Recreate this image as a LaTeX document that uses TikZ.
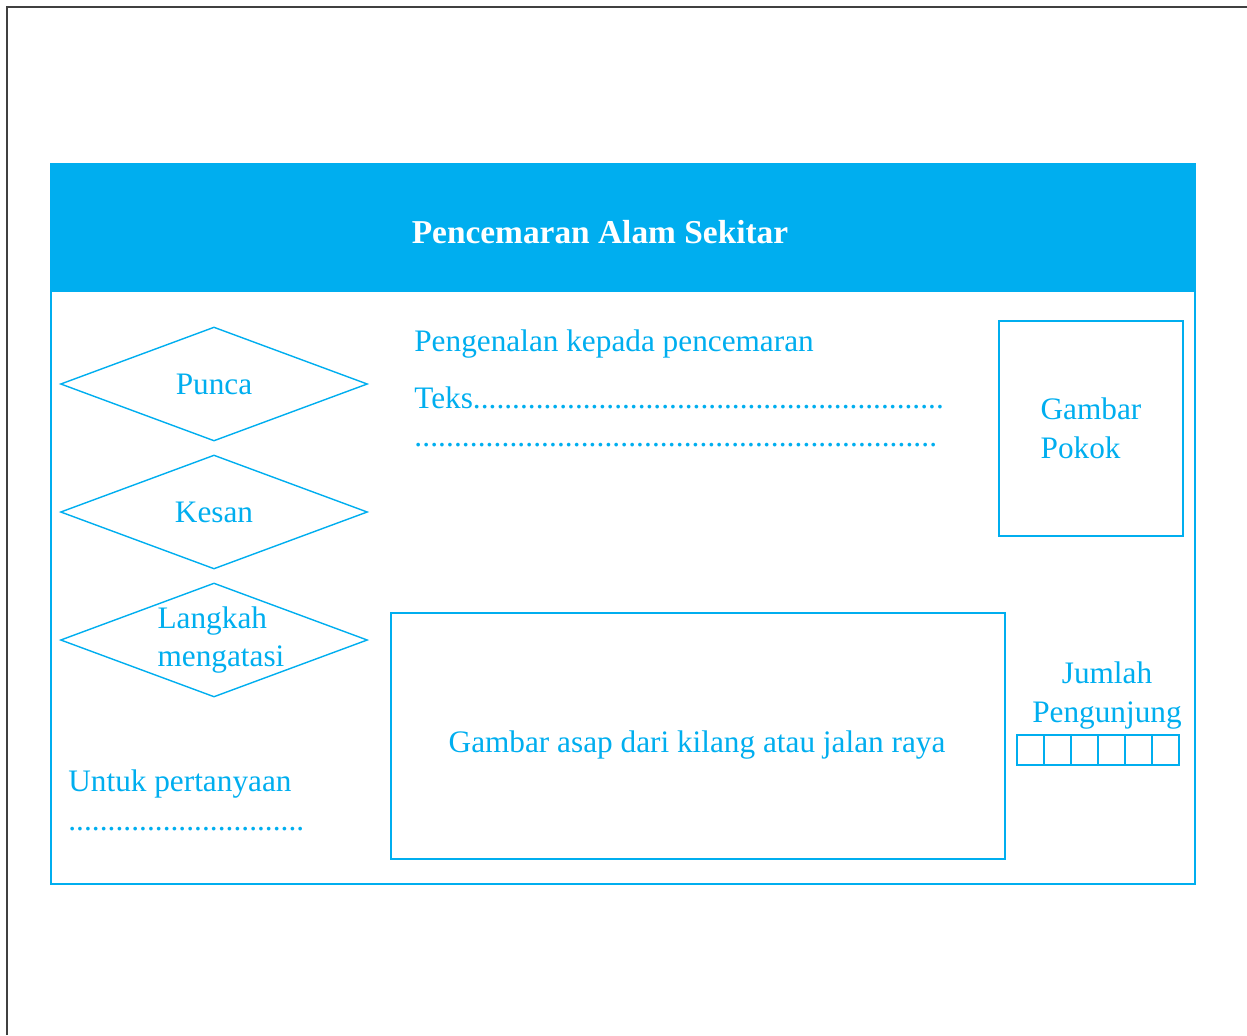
\documentclass[tikz,border=0pt]{standalone}
\usepackage{fontspec}
\setmainfont{Liberation Serif}
\usetikzlibrary{shapes.geometric}
\definecolor{posterblue}{RGB}{0,174,239}
\definecolor{edgegray}{RGB}{64,64,64}
\newcommand{\dotrow}[1]{\hbox to #1{\xleaders\hbox{.}\hfill}}
\begin{document}
\begin{tikzpicture}[
    x=0.02cm, y=-0.02cm,
    frame/.style={draw=posterblue, line width=0.8pt},
    choice/.style={diamond, frame, inner sep=0pt, aspect=2.69, minimum width=6.14cm, minimum height=2.28cm, text=posterblue, font=\fontsize{17.8}{22}\selectfont},
    label/.style={text=posterblue, font=\fontsize{17.8}{22}\selectfont, inner sep=0pt},
    cell/.style={frame, minimum width=0.54cm, minimum height=0.6cm, inner sep=0pt}
]
\useasboundingbox (0,0) rectangle (1247,1035);

% page edge
\draw[edgegray, line width=1.1pt] (7,1035) -- (7,7) -- (1247,7);

% poster frame and header
\node[frame, minimum width=22.88cm, minimum height=14.4cm, inner sep=0pt] (poster) at (623,524) {};
\node[fill=posterblue, draw=posterblue, line width=0.8pt, minimum width=22.88cm, minimum height=2.54cm, inner sep=0pt] (header) at (623,227.5) {};
\node[text=white, font=\fontsize{19}{20}\selectfont\bfseries] (title) at (600,232) {Pencemaran Alam Sekitar};

% left column
\node[choice] (punca) at (214,384) {Punca};
\node[choice] (kesan) at (214,512) {Kesan};
\node[choice] (langkah) at (214,640) {};
\node[label, align=left] (langkahtext) at (221,640) {Langkah\\mengatasi};
\node[label, anchor=base west] (tanya) at (68,791) {Untuk pertanyaan};
\node[label, anchor=base west] (tanyadots) at (68,830) {\dotrow{4.72cm}};

% middle
\node[label, anchor=base west] (intro) at (414,351) {Pengenalan kepada pencemaran};
\node[label, anchor=base west] (teks) at (414,408) {Teks\dotrow{9.42cm}};
\node[label, anchor=base west] (teksdots) at (414,446) {\dotrow{10.46cm}};
\node[frame, minimum width=12.28cm, minimum height=4.92cm, inner sep=0pt] (asap) at (698,736) {};
\node[label] (asaptext) at (697,745) {Gambar asap dari kilang atau jalan raya};

% right column
\node[frame, minimum width=3.68cm, minimum height=4.3cm, text=posterblue, font=\fontsize{17.8}{22}\selectfont, align=left] (pokok) at (1091,428.5) {Gambar\\Pokok};
\node[label, align=center, anchor=base] (jumlah) at (1107,722) {Jumlah\\Pengunjung};
\foreach \i in {0,...,5}
    \node[cell] (c\i) at (1030.5+27*\i,750) {};

\end{tikzpicture}
\end{document}
